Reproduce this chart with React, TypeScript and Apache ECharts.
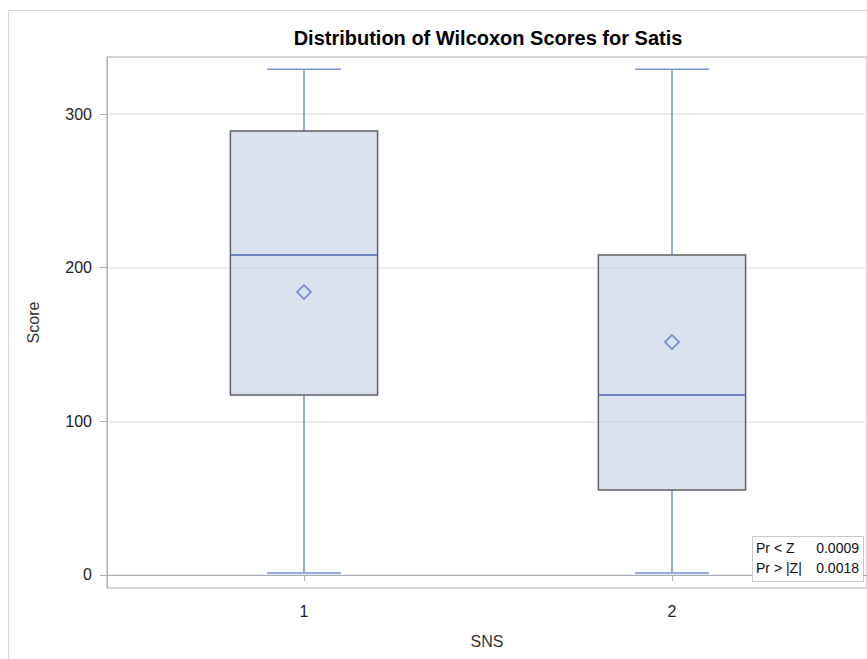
import React, { useEffect, useRef } from "react";
import * as echarts from "echarts";

// Wilcoxon score summaries per SNS group
const groups = [1, 2];
const whiskerLow = [1.3, 1.3];
const quartile1 = [117.1, 55.3];
const medians = [208.2, 117.1];
const quartile3 = [288.9, 208.2];
const whiskerHigh = [329.2, 329.2];
const means = [184.1, 151.6];

const yTicks = [0, 100, 200, 300];
const statLabels = ["Pr < Z", "Pr > |Z|"];
const statValues = ["0.0009", "0.0018"];

const FONT = "'Liberation Sans', Arial, Helvetica, sans-serif";
const BOX_WIDTH = 0.4;
const CAP_WIDTH = 0.2;

export default function App() {
  const ref = useRef<HTMLDivElement>(null);

  useEffect(() => {
    if (!ref.current) return;
    const chart = echarts.init(ref.current, undefined, { renderer: "svg" });

    const boxData = groups.map((g, i) => [
      g,
      whiskerLow[i],
      quartile1[i],
      medians[i],
      quartile3[i],
      whiskerHigh[i],
    ]);
    const meanData = groups.map((g, i) => [g, means[i]]);

    const whiskerColor = "#758fd3";
    const medianColor = "#4a66b4";

    const renderBox = (params: any, api: any) => {
      const x = api.value(0);
      const pLow = api.coord([x, api.value(1)]);
      const pQ1 = api.coord([x, api.value(2)]);
      const pMed = api.coord([x, api.value(3)]);
      const pQ3 = api.coord([x, api.value(4)]);
      const pHigh = api.coord([x, api.value(5)]);
      const bw = api.size([BOX_WIDTH, 0])[0];
      const cw = api.size([CAP_WIDTH, 0])[0];
      const cx = pMed[0];
      const wStyle = { stroke: whiskerColor, lineWidth: 1.5 };
      return {
        type: "group",
        children: [
          { type: "line", shape: { x1: cx, y1: pQ3[1], x2: cx, y2: pHigh[1] }, style: wStyle },
          { type: "line", shape: { x1: cx, y1: pQ1[1], x2: cx, y2: pLow[1] }, style: wStyle },
          { type: "line", shape: { x1: cx - cw / 2, y1: pHigh[1], x2: cx + cw / 2, y2: pHigh[1] }, style: wStyle },
          { type: "line", shape: { x1: cx - cw / 2, y1: pLow[1], x2: cx + cw / 2, y2: pLow[1] }, style: wStyle },
          {
            type: "rect",
            shape: { x: cx - bw / 2, y: pQ3[1], width: bw, height: pQ1[1] - pQ3[1] },
            style: { fill: "rgba(200,212,230,0.68)", stroke: "#5e6064", lineWidth: 1.5 },
          },
          { type: "line", shape: { x1: cx - bw / 2, y1: pMed[1], x2: cx + bw / 2, y2: pMed[1] }, style: { stroke: medianColor, lineWidth: 1.5 } },
        ],
      };
    };

    chart.setOption({
      animation: false,
      backgroundColor: "#ffffff",
      textStyle: { fontFamily: FONT },
      grid: {
        left: 107,
        right: 0,
        top: 57,
        bottom: 71,
        show: true,
        borderColor: "#a9adb4",
        borderWidth: 1,
      },
      xAxis: {
        type: "value",
        min: 0.4647,
        max: 2.5299,
        name: "SNS",
        nameLocation: "middle",
        nameGap: 45,
        nameTextStyle: { fontFamily: FONT, fontSize: 16, color: "#333" },
        axisLine: { show: true, lineStyle: { color: "#a9adb4" } },
        axisTick: { show: true, length: 6, customValues: groups, lineStyle: { color: "#a9adb4" } },
        axisLabel: { customValues: groups, margin: 15, fontFamily: FONT, fontSize: 16, color: "#222" },
        splitLine: { show: false },
      },
      yAxis: {
        type: "value",
        min: -8.5,
        max: 337.1,
        name: "Score",
        nameLocation: "middle",
        nameGap: 66,
        nameTextStyle: { fontFamily: FONT, fontSize: 16, color: "#333" },
        axisLine: { show: true, lineStyle: { color: "#a9adb4" } },
        axisTick: { show: true, length: 7, customValues: yTicks, lineStyle: { color: "#a9adb4" } },
        axisLabel: { customValues: yTicks, margin: 15, fontFamily: FONT, fontSize: 16, color: "#222" },
        splitLine: { show: false },
      },
      series: [
        {
          type: "custom",
          name: "gridlines",
          data: [],
          renderItem: () => null,
          silent: true,
          markLine: {
            silent: true,
            symbol: ["none", "none"],
            label: { show: false },
            lineStyle: { color: "#e6e6e6", width: 1.5, type: "solid" },
            data: yTicks.map((v) => ({ yAxis: v })),
            z: 0,
          },
          z: 0,
        },
        {
          type: "custom",
          name: "box",
          data: boxData,
          encode: { x: 0, y: [1, 2, 3, 4, 5] },
          renderItem: renderBox,
          z: 2,
        },
        {
          type: "scatter",
          name: "mean",
          data: meanData,
          symbol: "diamond",
          symbolSize: 14,
          itemStyle: { color: "rgba(0,0,0,0)", borderColor: "#5675c0", borderWidth: 1.7 },
          z: 3,
        },
      ],
      graphic: [
        // outer page frame
        { type: "line", shape: { x1: 8.5, y1: 10, x2: 8.5, y2: 659 }, style: { stroke: "#d6d6d6", lineWidth: 1 } },
        { type: "line", shape: { x1: 8, y1: 10.5, x2: 867, y2: 10.5 }, style: { stroke: "#d6d6d6", lineWidth: 1 } },
        {
          type: "text",
          x: 488,
          y: 38,
          style: {
            text: "Distribution of Wilcoxon Scores for Satis",
            fontFamily: FONT,
            fontWeight: "bold",
            fontSize: 20,
            fill: "#000",
            textAlign: "center",
            textVerticalAlign: "middle",
          },
        },
        // test statistics inset
        {
          type: "rect",
          shape: { x: 752.5, y: 536.5, width: 111, height: 45 },
          style: { fill: "#ffffff", stroke: "#c9c9c9", lineWidth: 1 },
          z: 10,
        },
        ...statLabels.map((t, i) => ({
          type: "text",
          x: 756,
          y: 548 + i * 20,
          z: 11,
          style: { text: t, fontFamily: FONT, fontSize: 14, fill: "#111", textVerticalAlign: "middle" },
        })),
        ...statValues.map((t, i) => ({
          type: "text",
          x: 859,
          y: 548 + i * 20,
          z: 11,
          style: { text: t, fontFamily: FONT, fontSize: 14, fill: "#111", textAlign: "right", textVerticalAlign: "middle" },
        })),
      ],
    });

    return () => chart.dispose();
  }, []);

  return (
    <div
      ref={ref}
      style={{ position: "absolute", left: 0, top: 0, width: 867, height: 659 }}
    />
  );
}
